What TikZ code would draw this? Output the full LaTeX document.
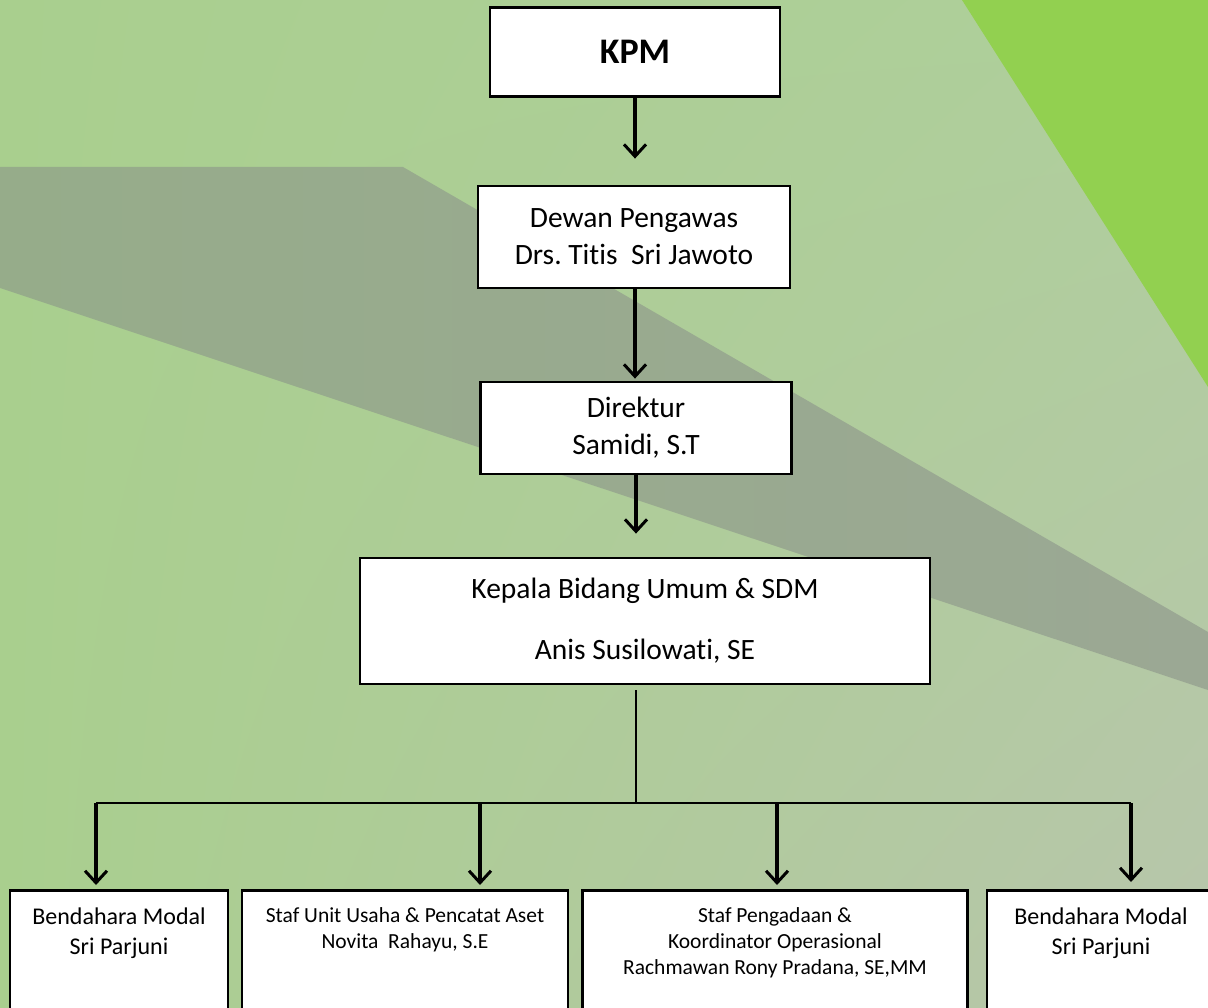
\documentclass[tikz,border=0pt]{standalone}
\usepackage{fontspec}
\setmainfont[Ligatures=NoCommon]{Carlito}
\frenchspacing
\usetikzlibrary{arrows.meta,shadings}
\definecolor{bgul}{HTML}{A9CF8E}
\definecolor{bgur}{HTML}{AFCF9C}
\definecolor{bgll}{HTML}{A9CF8E}
\definecolor{bglr}{HTML}{B8C5AC}
\definecolor{bandl}{HTML}{96AC8A}
\definecolor{bandr}{HTML}{9BA894}
\definecolor{leaf}{HTML}{92D050}
\tikzset{
  box/.style={draw, line width=2.8pt, fill=white, align=center, inner sep=0pt},
  staff/.style={box, anchor=north, inner ysep=17pt, text depth=130pt},
  arr/.style={line width=3.3pt, -{Straight Barb[length=12pt,width=22pt,line width=3pt]}},
  link/.style={line width=1.5pt}
}
\begin{document}
\begin{tikzpicture}[x=1pt, y=-1pt]
  \clip (0,0) rectangle (1208,1008);
  % background
  \shade[upper left=bgul, upper right=bgur, lower left=bgll, lower right=bglr] (0,0) rectangle (1208,1008);
  \fill[leaf] (962,0) -- (1208,0) -- (1208,387) -- cycle;
  \shade[left color=bandl, right color=bandr] (0,167) -- (403,167) -- (1208,632) -- (1208,690) -- (0,288) -- cycle;

  \node[box, minimum width=290pt, minimum height=89pt, font=\bfseries\fontsize{36}{43}\selectfont] (K) at (635,52) {KPM};
  \node[box, minimum width=312pt, minimum height=102pt, font=\fontsize{29.5}{37}\selectfont] (D) at (634,237) {Dewan Pengawas\\Drs. Titis\ \ Sri Jawoto};
  \node[box, minimum width=311pt, minimum height=92pt, font=\fontsize{29.5}{37}\selectfont] (R) at (636,428) {Direktur\\Samidi, S.T};
  \node[box, minimum width=570pt, minimum height=126pt, font=\fontsize{29.5}{37}\selectfont] (U) at (645,621) {Kepala Bidang Umum \& SDM\\[24pt]Anis Susilowati, SE};

  \node[staff, minimum width=218pt, font=\fontsize{24}{30}\selectfont] (S1) at (119,889) {Bendahara Modal\\Sri Parjuni};
  \node[staff, minimum width=326pt, font=\fontsize{21.5}{26}\selectfont] (S2) at (405,889) {Staf Unit Usaha \& Pencatat Aset\\Novita\ \ Rahayu, S.E};
  \node[staff, minimum width=385pt, font=\fontsize{21.5}{26}\selectfont] (S3) at (775,889) {Staf Pengadaan \&\\Koordinator Operasional\\Rachmawan Rony Pradana, SE,MM};
  \node[staff, minimum width=228pt, font=\fontsize{24}{30}\selectfont] (S4) at (1101,889) {Bendahara Modal\\Sri Parjuni};

  \draw[arr, shorten >=26pt] (K.south) -- (K.south |- D.north);
  \draw[arr, shorten >=2pt] (D.south -| K.south) -- (K.south |- R.north);
  \draw[arr, shorten >=23pt] (R.south) -- (R.south |- U.north);

  \coordinate (bus) at (636,803);
  \coordinate (c1) at (96,803);
  \coordinate (c2) at (480,803);
  \coordinate (c3) at (777,803);
  \coordinate (c4) at (1131,803);
  \draw[link, shorten <=5pt] (U.south -| bus) -- (bus);
  \draw[link] (c1) -- (c4);
  \draw[arr, shorten >=4pt] (c1) -- (c1 |- S1.north);
  \draw[arr, shorten >=4pt] (c2) -- (c2 |- S2.north);
  \draw[arr, shorten >=4pt] (c3) -- (c3 |- S3.north);
  \draw[arr, shorten >=7pt] (c4) -- (c4 |- S4.north);
\end{tikzpicture}
\end{document}
